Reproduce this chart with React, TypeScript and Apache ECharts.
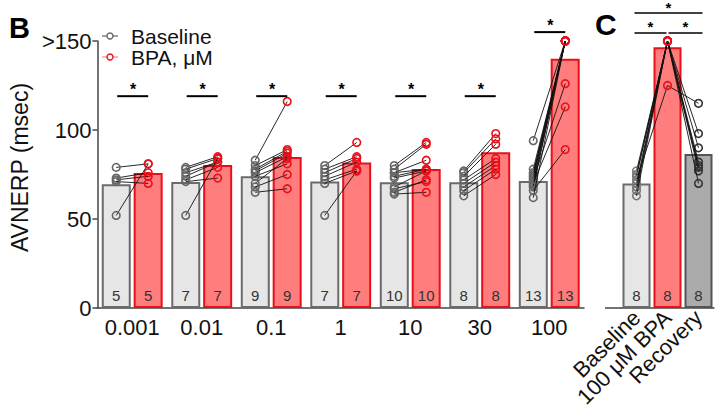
import React, { useEffect, useRef } from "react";
import * as echarts from "echarts";

// ---------- data ----------
const doses = ["0.001", "0.01", "0.1", "1", "10", "30", "100"];
const baselineMean = [69.5, 70.8, 74, 71, 70.6, 70.6, 71.3];
const bpaMean = [75.8, 80.3, 84.8, 81.8, 78.1, 87.5, 140];
const nPerDose = [5, 7, 9, 7, 10, 8, 13];

const base0001 = [79, 73, 72, 71, 52];
const bpa0001 = [81, 76, 74, 70, 81];
const base001 = [79, 78, 76, 74, 72, 71, 52];
const bpa001 = [85, 84, 82, 82, 79, 73, 84];
const base01 = [83, 80, 78, 77, 76, 74, 70, 68, 65];
const bpa01 = [116, 89, 88, 87, 85, 81, 84, 75, 67];
const base1 = [80, 78, 76, 74, 72, 70, 52];
const bpa1 = [93, 85, 84, 82, 78, 77, 77];
const base10 = [80, 78, 76, 76, 74, 73, 68, 67, 65, 64];
const bpa10 = [93, 92, 83, 78, 78, 77, 77, 71, 72, 65];
const base30 = [77, 76, 74, 72, 70, 68, 66, 63];
const bpa30 = [98, 95, 92, 84, 82, 80, 78, 75];
const base100 = [94, 78, 76, 75, 74, 73, 72, 71, 70, 69, 68, 66, 62];
const bpa100 = [150, 150, 150, 150, 150, 150, 126, 150, 113, 150, 150, 89, 150];

const sigLevelB = [119, 119, 119, 119, 119, 119, 155];

const phases = ["Baseline", "100 μM BPA", "Recovery"];
const phaseMean = [70, 146.5, 86.5];
const nPerPhase = [8, 8, 8];
const cBaseline = [77, 75, 74, 72, 70, 68, 66, 63];
const cBpa = [150, 150, 150, 125, 150, 150, 150, 150];
const cRecovery = [98, 90, 82, 115, 79, 77, 70, 80];
const sigC = [
  [0, 2, 165.7],
  [0, 1, 154.5],
  [1, 2, 154.5],
];

const legendNames = ["Baseline", "BPA, μM"];
const yTickLabels: Record<number, string> = { 0: "0", 50: "50", 100: "100", 150: ">150" };

// ---------- styles ----------
const FONT = "'Liberation Sans', Arial, sans-serif";
const GRAY_FILL = "#e6e6e6";
const GRAY_EDGE = "#6b6b6b";
const RED_FILL = "#ff7d7d";
const RED_EDGE = "#e8101a";
const DARK_FILL = "#ababab";
const DARK_EDGE = "#555555";
const AXIS = "#444";
const BAR_W = 29;
const OFF = 16;

export default function App() {
  const ref = useRef<HTMLDivElement>(null);

  useEffect(() => {
    if (!ref.current) return;
    const chart = echarts.init(ref.current, null, { renderer: "svg" });

    const baseGroups = [base0001, base001, base01, base1, base10, base30, base100];
    const bpaGroups = [bpa0001, bpa001, bpa01, bpa1, bpa10, bpa30, bpa100];
    const bPoints: number[][] = [];
    baseGroups.forEach((g, i) =>
      g.forEach((b, k) => bPoints.push([i, b, bpaGroups[i][k]]))
    );
    const cPoints = cBaseline.map((b, k) => [b, cBpa[k], cRecovery[k]]);

    const countLabel = (arr: number[]) => ({
      show: true,
      position: "insideBottom",
      distance: 5,
      fontSize: 15,
      color: "#333",
      fontFamily: FONT,
      formatter: (p: any) => String(arr[p.dataIndex]),
    });

    const option: any = {
      animation: false,
      textStyle: { fontFamily: FONT },
      grid: [
        { left: 92, top: 41, width: 492, height: 267 },
        { left: 621, top: 41, width: 93, height: 267 },
      ],
      xAxis: [
        {
          type: "category",
          gridIndex: 0,
          data: doses,
          axisLine: { lineStyle: { color: AXIS, width: 1.5 } },
          axisTick: { alignWithLabel: true, length: 5, lineStyle: { color: AXIS, width: 1.5 } },
          axisLabel: { interval: 0, fontSize: 22, color: "#111", margin: 8, fontFamily: FONT },
          splitLine: { show: false },
        },
        {
          type: "category",
          gridIndex: 1,
          data: phases,
          axisLine: { lineStyle: { color: AXIS, width: 1.5 } },
          axisTick: { alignWithLabel: true, length: 5, lineStyle: { color: "#777", width: 1.2 } },
          axisLabel: { interval: 0, fontSize: 22, color: "#111", margin: 6, rotate: 45, fontFamily: FONT },
          splitLine: { show: false },
        },
      ],
      yAxis: [
        {
          type: "value",
          gridIndex: 0,
          min: 0,
          max: 150,
          interval: 50,
          name: "AVNERP (msec)",
          nameLocation: "middle",
          nameRotate: 90,
          nameGap: 47,
          nameTextStyle: { fontSize: 23, color: "#111", fontFamily: FONT, padding: [0, 0, 0, 14] },
          axisLine: { show: true, lineStyle: { color: AXIS, width: 1.5 } },
          axisTick: { show: true, length: 5, lineStyle: { color: AXIS, width: 1.5 } },
          axisLabel: {
            fontSize: 22,
            color: "#111",
            margin: 6,
            fontFamily: FONT,
            formatter: (v: number) => yTickLabels[v] ?? String(v),
          },
          splitLine: { show: false },
        },
        {
          type: "value",
          gridIndex: 1,
          min: 0,
          max: 150,
          show: false,
          splitLine: { show: false },
        },
      ],
      series: [
        {
          type: "bar",
          xAxisIndex: 0,
          yAxisIndex: 0,
          data: baselineMean,
          barWidth: BAR_W,
          barGap: "10%",
          itemStyle: { color: GRAY_FILL, borderColor: GRAY_EDGE, borderWidth: 2 },
          label: countLabel(nPerDose),
          z: 2,
        },
        {
          type: "bar",
          xAxisIndex: 0,
          yAxisIndex: 0,
          data: bpaMean,
          barWidth: BAR_W,
          barGap: "10%",
          itemStyle: { color: RED_FILL, borderColor: RED_EDGE, borderWidth: 2 },
          label: countLabel(nPerDose),
          z: 2,
        },
        {
          type: "custom",
          xAxisIndex: 0,
          yAxisIndex: 0,
          data: bPoints,
          encode: { x: 0, y: [1, 2] },
          z: 5,
          renderItem: (_params: any, api: any) => {
            const c = api.value(0);
            const p1 = api.coord([c, api.value(1)]);
            const p2 = api.coord([c, api.value(2)]);
            const x1 = p1[0] - OFF;
            const x2 = p2[0] + OFF;
            return {
              type: "group",
              children: [
                { type: "line", shape: { x1, y1: p1[1], x2, y2: p2[1] }, style: { stroke: "#111", lineWidth: 0.9 } },
                { type: "circle", shape: { cx: x1, cy: p1[1], r: 3.8 }, style: { fill: "none", stroke: "#666", lineWidth: 1.6 } },
                { type: "circle", shape: { cx: x2, cy: p2[1], r: 3.8 }, style: { fill: "none", stroke: RED_EDGE, lineWidth: 1.6 } },
              ],
            };
          },
        },
        {
          type: "custom",
          xAxisIndex: 0,
          yAxisIndex: 0,
          data: sigLevelB.map((v, i) => [i, v]),
          encode: { x: 0, y: 1 },
          z: 6,
          renderItem: (_params: any, api: any) => {
            const p = api.coord([api.value(0), api.value(1)]);
            return {
              type: "group",
              children: [
                { type: "line", shape: { x1: p[0] - 15, y1: p[1], x2: p[0] + 16, y2: p[1] }, style: { stroke: "#000", lineWidth: 2 } },
                {
                  type: "text",
                  x: p[0] + 1,
                  y: p[1] - 7,
                  style: { text: "*", fontSize: 16, fontWeight: "bold", fill: "#000", align: "center", verticalAlign: "middle", lineHeight: 12, fontFamily: FONT },
                },
              ],
            };
          },
        },
        {
          type: "bar",
          xAxisIndex: 1,
          yAxisIndex: 1,
          barWidth: 28,
          data: phaseMean.map((v, i) => ({
            value: v,
            itemStyle: {
              color: [GRAY_FILL, RED_FILL, DARK_FILL][i],
              borderColor: [GRAY_EDGE, RED_EDGE, DARK_EDGE][i],
              borderWidth: 2,
            },
          })),
          label: countLabel(nPerPhase),
          z: 2,
        },
        {
          type: "custom",
          xAxisIndex: 1,
          yAxisIndex: 1,
          data: cPoints,
          encode: { y: [0, 1, 2] },
          z: 5,
          renderItem: (_params: any, api: any) => {
            const a = api.coord([0, api.value(0)]);
            const b = api.coord([1, api.value(1)]);
            const c = api.coord([2, api.value(2)]);
            return {
              type: "group",
              children: [
                { type: "polyline", shape: { points: [a, b, c] }, style: { stroke: "#111", lineWidth: 0.9, fill: "none" } },
                { type: "circle", shape: { cx: a[0], cy: a[1], r: 3.8 }, style: { fill: "none", stroke: "#777", lineWidth: 1.6 } },
                { type: "circle", shape: { cx: b[0], cy: b[1], r: 3.8 }, style: { fill: "none", stroke: RED_EDGE, lineWidth: 1.6 } },
                { type: "circle", shape: { cx: c[0], cy: c[1], r: 3.8 }, style: { fill: "none", stroke: "#333", lineWidth: 1.6 } },
              ],
            };
          },
        },
        {
          type: "custom",
          xAxisIndex: 1,
          yAxisIndex: 1,
          data: sigC,
          encode: { x: [0, 1], y: 2 },
          z: 6,
          renderItem: (_params: any, api: any) => {
            const c1 = api.value(0);
            const c2 = api.value(1);
            const v = api.value(2);
            const p1 = api.coord([c1, v]);
            const p2 = api.coord([c2, v]);
            const x1 = p1[0] + (c1 === 0 ? -2 : 1);
            const x2 = p2[0] + (c2 === 2 ? 4 : -1);
            return {
              type: "group",
              children: [
                { type: "line", shape: { x1, y1: p1[1], x2, y2: p1[1] }, style: { stroke: "#000", lineWidth: 1.6 } },
                {
                  type: "text",
                  x: (x1 + x2) / 2,
                  y: p1[1] - 6,
                  style: { text: "*", fontSize: 15, fontWeight: "bold", fill: "#000", align: "center", verticalAlign: "middle", lineHeight: 11, fontFamily: FONT },
                },
              ],
            };
          },
        },
      ],
      graphic: [
        { type: "text", left: 9, top: 13, style: { text: "B", fontSize: 29, fontWeight: "bold", fill: "#000", fontFamily: FONT } },
        { type: "text", left: 595, top: 9, style: { text: "C", fontSize: 30, fontWeight: "bold", fill: "#000", fontFamily: FONT } },
        { type: "line", shape: { x1: 605, y1: 308, x2: 621, y2: 308 }, style: { stroke: AXIS, lineWidth: 1.5 } },
        { type: "line", shape: { x1: 102, y1: 36, x2: 118, y2: 36 }, style: { stroke: "#666", lineWidth: 1.2 } },
        { type: "circle", shape: { cx: 110, cy: 36, r: 3 }, style: { fill: "#fff", stroke: "#666", lineWidth: 1.4 } },
        { type: "line", shape: { x1: 102, y1: 57, x2: 118, y2: 57 }, style: { stroke: "#e88", lineWidth: 1.2 } },
        { type: "circle", shape: { cx: 110, cy: 57, r: 3 }, style: { fill: "#fff", stroke: RED_EDGE, lineWidth: 1.4 } },
        { type: "text", x: 131, y: 36.5, style: { text: legendNames[0], fontSize: 21, lineHeight: 21, fill: "#111", verticalAlign: "middle", fontFamily: FONT } },
        { type: "text", x: 131, y: 57.5, style: { text: legendNames[1], fontSize: 21, lineHeight: 21, fill: "#111", verticalAlign: "middle", fontFamily: FONT } },
      ],
    };

    chart.setOption(option);
    return () => chart.dispose();
  }, []);

  return (
    <div
      ref={ref}
      style={{ position: "fixed", left: 0, top: 0, width: 720, height: 413, background: "#fff" }}
    />
  );
}
